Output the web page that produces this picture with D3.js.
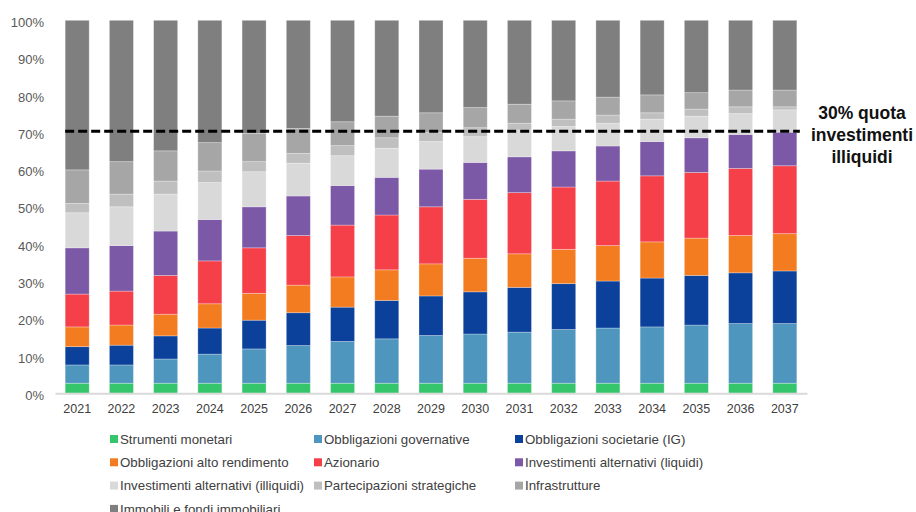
<!DOCTYPE html>
<html>
<head>
<meta charset="utf-8">
<script src="https://cdn.jsdelivr.net/npm/d3@7"></script>
<style>
  body { margin: 0; background: #fff; }
  svg { display: block; font-family: "Liberation Sans", Arial, sans-serif; }
</style>
</head>
<body>
<svg id="chart" width="916" height="512"></svg>
<script>
const years = ['2021', '2022', '2023', '2024', '2025', '2026', '2027', '2028', '2029',
    '2030', '2031', '2032', '2033', '2034', '2035', '2036', '2037'];
const seriesNames = [
    'Strumenti monetari', 'Obbligazioni governative', 'Obbligazioni societarie (IG)',
    'Obbligazioni alto rendimento', 'Azionario', 'Investimenti alternativi (liquidi)',
    'Investimenti alternativi (illiquidi)', 'Partecipazioni strategiche', 'Infrastrutture',
    'Immobili e fondi immobiliari'
];
const strumentiMonetari = [2.7, 2.7, 2.7, 2.7, 2.7, 2.7, 2.7, 2.7, 2.7, 2.7, 2.7, 2.7, 2.7, 2.7, 2.7, 2.7, 2.7];
const obbligGovernative = [4.9, 4.9, 6.5, 7.8, 9.2, 10.1, 11.2, 11.9, 12.8, 13.2, 13.7, 14.4, 14.8, 15.1, 15.6, 16.0, 16.0];
const obbligSocietarie = [4.9, 5.3, 6.2, 7.0, 7.7, 8.8, 9.2, 10.3, 10.6, 11.3, 12.0, 12.3, 12.6, 13.1, 13.3, 13.6, 14.1];
const obbligAltoRend = [5.3, 5.4, 5.8, 6.5, 7.2, 7.4, 8.1, 8.2, 8.6, 9.0, 9.0, 9.2, 9.5, 9.7, 10.0, 10.0, 10.0];
const azionario = [8.8, 9.1, 10.4, 11.5, 12.2, 13.3, 13.9, 14.7, 15.3, 15.8, 16.4, 16.7, 17.3, 17.7, 17.6, 18.0, 18.2];
const altLiquidi = [12.4, 12.2, 11.9, 11.1, 11.0, 10.6, 10.6, 10.1, 10.1, 9.9, 9.6, 9.7, 9.4, 9.2, 9.3, 9.1, 9.0];
const altIlliquidi = [9.4, 10.4, 9.9, 9.9, 9.4, 8.8, 8.0, 7.8, 7.4, 6.9, 7.2, 6.5, 6.1, 6.0, 5.8, 5.6, 6.0];
const partecipazioni = [2.5, 3.4, 3.5, 3.1, 2.7, 2.6, 2.7, 2.8, 2.4, 2.4, 1.8, 2.0, 2.2, 1.7, 1.9, 1.8, 0.8];
const infrastrutture = [9.0, 8.7, 8.1, 7.6, 7.6, 6.7, 6.4, 5.8, 5.3, 5.4, 5.1, 4.9, 4.8, 4.8, 4.4, 4.5, 4.5];
const immobili = [40.1, 37.9, 35.0, 32.8, 30.3, 29.0, 27.2, 25.7, 24.8, 23.4, 22.5, 21.6, 20.6, 20.0, 19.4, 18.7, 18.7];
const yTicks = [0, 10, 20, 30, 40, 50, 60, 70, 80, 90, 100];
const thresholdValue = 70;
const noteLines = ['30% quota', 'investimenti', 'illiquidi'];

const seriesValues = [strumentiMonetari, obbligGovernative, obbligSocietarie, obbligAltoRend,
    azionario, altLiquidi, altIlliquidi, partecipazioni, infrastrutture, immobili];
const colors = ['#35c66c', '#4f96bf', '#0b419a', '#f47c20', '#f5404a', '#7b59a6',
    '#d9d9d9', '#bfbfbf', '#a6a6a6', '#7f7f7f'];

const svg = d3.select('#chart');

// table for the stack layout
const table = years.map((year, i) => {
    const row = { year: year };
    seriesNames.forEach((name, s) => { row[name] = seriesValues[s][i]; });
    return row;
});

const x = d3.scaleBand()
    .domain(years)
    .range([55, 807])
    .paddingInner(0.457)
    .paddingOuter(0.23);
const y = d3.scaleLinear()
    .domain([0, 100])
    .range([393.3, 20.3]);
const color = d3.scaleOrdinal(seriesNames, colors);

const stack = d3.stack().keys(seriesNames);

// bars
svg.append('g')
    .selectAll('g')
    .data(stack(table))
    .join('g')
    .attr('fill', (d) => color(d.key))
    .selectAll('rect')
    .data((d) => d)
    .join('rect')
    .attr('x', (d) => x(d.data.year))
    .attr('y', (d) => y(d[1]))
    .attr('height', (d) => y(d[0]) - y(d[1]))
    .attr('width', x.bandwidth())
    .attr('stroke', 'rgba(255,255,255,0.35)')
    .attr('stroke-width', 0.8);

// y axis labels, no line
const yAxis = svg.append('g')
    .attr('transform', 'translate(47,2)')
    .call(d3.axisLeft(y).tickValues(yTicks).tickSize(0).tickFormat((d) => d + '%'));
yAxis.select('.domain').remove();
yAxis.selectAll('text')
    .attr('fill', '#595959')
    .attr('font-size', 13)
    .attr('font-family', '"Liberation Sans", Arial, sans-serif');

// x axis
const xAxis = svg.append('g')
    .attr('transform', 'translate(0,' + y(0) + ')')
    .call(d3.axisBottom(x).tickSize(0).tickPadding(11));
xAxis.select('.domain')
    .attr('stroke', '#d9d9d9')
    .attr('stroke-width', 2);
xAxis.selectAll('text')
    .attr('fill', '#404040')
    .attr('font-size', 12.5)
    .attr('font-family', '"Liberation Sans", Arial, sans-serif');

// dashed threshold line
svg.append('line')
    .attr('x1', x(years[0]))
    .attr('x2', x(years[years.length - 1]) + x.bandwidth() + 3)
    .attr('y1', y(thresholdValue) - 1)
    .attr('y2', y(thresholdValue) - 1)
    .attr('stroke', '#000')
    .attr('stroke-width', 3)
    .attr('stroke-dasharray', '9,4');

// annotation
svg.append('text')
    .attr('text-anchor', 'middle')
    .attr('font-weight', 'bold')
    .attr('font-size', 17.5)
    .attr('fill', '#111')
    .selectAll('tspan')
    .data(noteLines)
    .join('tspan')
    .attr('x', 862)
    .attr('y', (d, i) => 119 + i * 22)
    .text((d) => d);

// legend, 3 columns
const legendCols = [110, 314, 515];
const legend = svg.append('g')
    .selectAll('g')
    .data(seriesNames)
    .join('g')
    .attr('transform', (d, i) => 'translate(' + legendCols[i % 3] + ',' + (439 + Math.floor(i / 3) * 23.3) + ')');
legend.append('rect')
    .attr('x', 0)
    .attr('y', -4)
    .attr('width', 8)
    .attr('height', 8)
    .attr('fill', (d) => color(d));
legend.append('text')
    .attr('x', 10)
    .attr('dy', '0.35em')
    .attr('font-size', 13.3)
    .attr('fill', '#404040')
    .text((d) => d);
</script>
</body>
</html>
